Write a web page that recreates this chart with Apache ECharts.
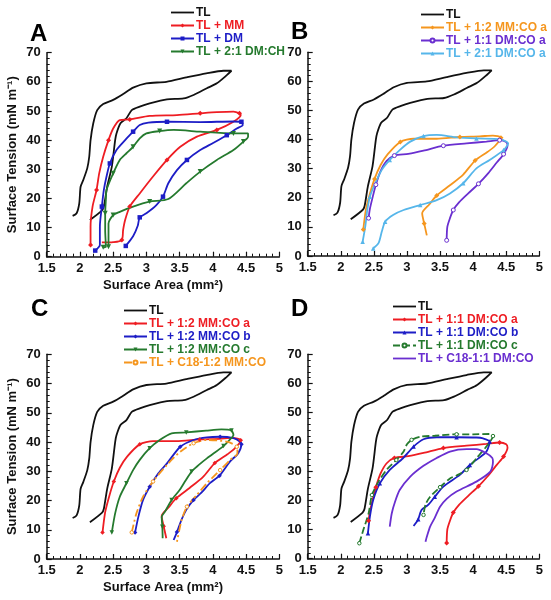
<!DOCTYPE html>
<html>
<head>
<meta charset="utf-8">
<script src="https://cdn.jsdelivr.net/npm/echarts@6/dist/echarts.min.js"></script>
<style>html,body{margin:0;padding:0;background:#fff}#c{width:551px;height:600px}</style>
</head>
<body>
<div id="c"></div>
<script>
// ---- Data (surface area mm^2, surface tension mN/m) ----
var TL = [[2.15,12.6],[2.33,15.8],[2.36,17.2],[2.41,24],[2.48,30.9],[2.53,40],[2.55,42.3],[2.61,45.8],[2.70,47.5],[2.78,50.3],[2.9,51.5],[3.05,52.6],[3.31,54],[3.56,54.3],[3.71,55.5],[3.91,57.8],[4.06,59.5],[4.21,62.3],[4.28,63.8],[4.16,63.8],[3.9,62.9],[3.6,61.5],[3.3,60],[3.0,59.5],[2.8,58],[2.65,55.8],[2.5,53.8],[2.35,52.4],[2.26,50.3],[2.2,45.7],[2.16,40],[2.14,34.3],[2.11,30.3],[2.05,26.3],[2.01,24],[1.99,18.3],[1.95,14.9],[1.89,14]];
var MM = [[2.16,4],[2.16,10.3],[2.19,17.2],[2.25,22.9],[2.29,28.6],[2.35,34.3],[2.43,40],[2.5,44],[2.6,46.9],[2.75,47.1],[3.05,48.3],[3.46,48.6],[3.81,49.2],[4.06,49.6],[4.31,49.8],[4.4,49.2],[4.42,48.6],[4.31,46.3],[4.06,43.5],[3.76,41.2],[3.51,37.7],[3.31,33.2],[3.1,27.5],[2.9,21.7],[2.75,17.2],[2.68,12.6],[2.65,9.2],[2.63,5.7],[2.5,5.0],[2.33,4.9]];
var DM = [[2.23,2.1],[2.3,4],[2.3,10.3],[2.33,17.2],[2.36,22.9],[2.4,27.5],[2.45,32],[2.55,36.6],[2.68,40],[2.8,42.9],[2.9,45.2],[3.03,46],[3.31,46.3],[3.81,46.2],[4.31,46.4],[4.43,46.3],[4.45,45.2],[4.36,44],[4.21,41.7],[4.01,39.1],[3.81,36.6],[3.61,33.2],[3.46,29.7],[3.33,25.2],[3.25,20.6],[3.15,17.7],[3.0,14.9],[2.9,13.5],[2.87,10.6],[2.8,7],[2.69,3.7]];
var DMCH = [[2.35,3.2],[2.39,3.4],[2.38,9.2],[2.38,14.9],[2.39,19.4],[2.4,22.9],[2.5,28.6],[2.6,33.2],[2.7,35.5],[2.8,37.7],[2.9,40.6],[3.0,42.3],[3.2,43.1],[3.41,43.5],[3.81,42.9],[4.31,42.3],[4.53,42.3],[4.53,41.2],[4.46,39.5],[4.31,36.6],[4.06,33.2],[3.81,29.2],[3.6,25.2],[3.33,19.8],[3.05,18.9],[2.8,17.2],[2.6,15.4],[2.5,14.3],[2.43,11.4],[2.43,7.2],[2.43,3.4]];
var MMCO_a = [[2.34,9.1],[2.38,16],[2.44,21.4],[2.51,26.5],[2.6,31.2],[2.71,35],[2.9,39.2],[3.1,40.3],[3.45,40.3],[3.8,40.9],[4.1,41.1],[4.3,41.4],[4.42,40.6],[4.33,37.8],[4.22,35.8],[4.03,32.8],[3.85,28],[3.65,24.3],[3.45,20.8],[3.34,17.8],[3.23,14.7],[3.26,11.2],[3.3,7.1]];
var DMCO_a = [[2.42,13],[2.44,16.2],[2.49,21],[2.53,24.5],[2.6,29.1],[2.69,32.6],[2.81,34.5],[3.02,35.1],[3.25,36.2],[3.55,37.9],[3.9,38.7],[4.2,39.3],[4.4,39.8],[4.5,39.2],[4.52,38],[4.46,35],[4.36,32.2],[4.23,28.5],[4.08,24.8],[3.93,21.6],[3.79,18.5],[3.7,15.8],[3.65,13],[3.61,10],[3.6,5.4]];
var DMCO2_a = [[2.33,4.9],[2.37,10.1],[2.4,15.8],[2.44,20.4],[2.52,25],[2.62,29.6],[2.74,33],[2.89,36.4],[3.05,39.3],[3.25,41.2],[3.45,41.6],[3.75,40.8],[4.05,40.4],[4.41,40.1],[4.53,38.7],[4.46,36.4],[4.25,33],[4.05,30.1],[3.85,25],[3.65,21.5],[3.45,19.2],[3.2,17.5],[2.95,15.8],[2.79,14.1],[2.67,11.8],[2.62,8.4],[2.57,4.4],[2.49,2.6]];
var MMCO_b = [[2.83,9.1],[2.88,14.5],[2.95,20.2],[3.05,24.7],[3.18,29.3],[3.31,32.7],[3.51,38.4],[3.71,40.7],[3.91,41.6],[4.11,41.8],[4.31,41.3],[4.41,40.1],[4.43,39.2],[4.38,36.1],[4.26,33.4],[4.1,28.5],[3.96,26],[3.82,22.5],[3.71,20.2],[3.6,16.8],[3.53,13.5],[3.46,9.2],[3.41,6.5]];
var MMCO_c = [[2.48,9.1],[2.53,15.6],[2.6,21.3],[2.7,25.9],[2.8,30.4],[2.9,33.9],[3.05,37.9],[3.2,40.7],[3.38,43],[3.6,43.3],[3.9,43.9],[4.13,44.3],[4.28,43.9],[4.31,42.4],[4.25,40.7],[4.16,38.6],[3.91,34.4],[3.78,32],[3.68,29.9],[3.58,26.5],[3.5,23.6],[3.38,20.2],[3.28,16.2],[3.23,14.4],[3.24,11],[3.245,7.1]];
var C18_MMCO = [[2.78,9.1],[2.85,15.6],[2.95,21.3],[3.1,26.5],[3.31,32.2],[3.51,36.7],[3.71,39.6],[3.91,40.7],[4.21,40.1],[4.36,38.4],[4.37,36.1],[4.26,33.9],[4.11,30.4],[3.91,25.9],[3.76,21.9],[3.61,17.9],[3.53,13.3],[3.46,5.9]];
var DMCO_b = [[2.41,8.7],[2.44,14.4],[2.49,20.1],[2.59,25.8],[2.74,30.4],[2.94,34.4],[3.1,38.4],[3.25,40.9],[3.45,41.6],[3.75,41.6],[4.05,41.5],[4.15,41.2],[4.25,40.1],[4.22,37.5],[4.18,36.1],[3.95,32.1],[3.8,28.7],[3.55,24.7],[3.42,21.2],[3.32,18.4],[3.22,16.7],[3.17,13.5],[3.1,11.2]];
var DMCO_c = [[2.28,5.3],[2.34,9.8],[2.42,15.5],[2.47,21.8],[2.57,26.4],[2.69,30.4],[2.84,33.8],[2.95,36.7],[3.0,39.2],[3.07,40.7],[3.2,41.8],[3.42,42.1],[3.75,42.6],[4.0,42.6],[4.25,42.7],[4.3,42],[4.2,38.4],[4.05,34.4],[3.9,30.4],[3.75,28.5],[3.65,27.5],[3.5,24.5],[3.35,21.2],[3.28,18.5],[3.25,15]];
var C18_DMCO = [[2.74,11],[2.77,15.5],[2.82,19.5],[2.89,23.5],[3.05,28.1],[3.25,31.8],[3.45,34.5],[3.65,36.7],[3.9,37.5],[4.05,37.5],[4.2,36.1],[4.29,34.5],[4.3,33.2],[4.26,29.8],[4.05,26.4],[3.75,23],[3.6,20.5],[3.5,17.8],[3.42,14],[3.35,11],[3.3,7.5],[3.28,5.8]];

// ---- Styles ----
var BLACK='#111111', RED='#ee1d23', BLUE='#1d1dc6', GREEN='#257a2e', ORANGE='#f5961e', PURPLE='#6a2fd0', LBLUE='#56b6ea';
var FONT='Liberation Sans, Arial, sans-serif';
var PLAIN_ICON = 'path://M0,0M0,1.6L23,1.6L23,3.4L0,3.4ZM23,5';

var grids = [
  {left:46.7, top:52.7, width:232.6, height:204},
  {left:307.7, top:52.3, width:231.6, height:203.7},
  {left:46.7, top:354.3, width:232.6, height:204.7},
  {left:307.7, top:354.3, width:231.6, height:204.4}
];

function mk(step, size, off){ off = off||0; return function(v,p){ return ((p.dataIndex+off) % step === 0) ? size : 0; }; }

function S(panel, label, data, color, opt){
  opt = opt || {};
  return {
    type:'line', name: panel+'|'+label, xAxisIndex: 'ABCD'.indexOf(panel), yAxisIndex: 'ABCD'.indexOf(panel),
    data: data, smooth: 0.25, animation:false,
    lineStyle:{color:color, width:1.8, type: opt.dash || 'solid'},
    itemStyle:{color: opt.fill || color, borderColor: color, borderWidth: opt.fill ? 1 : 0},
    symbol: opt.symbol || 'none', symbolRotate: opt.rot || 0,
    symbolSize: opt.symbol ? mk(opt.step||3, opt.size||4, opt.off) : 0,
    showSymbol: !!opt.symbol, z: opt.z || 2,
    plainIcon: !opt.symbol
  };
}

var series = [
  S('A','TL',TL,BLACK),
  S('A','TL + MM',MM,RED,{symbol:'diamond',size:5,step:3}),
  S('A','TL + DM',DM,BLUE,{symbol:'rect',size:4.5,step:3}),
  S('A','TL + 2:1 DM:CH',DMCH,GREEN,{symbol:'triangle',rot:180,size:5,step:3}),
  S('B','TL',TL,BLACK),
  S('B','TL + 1:2 MM:CO a',MMCO_a,ORANGE,{symbol:'diamond',size:5,step:3}),
  S('B','TL + 1:1 DM:CO a',DMCO_a,PURPLE,{symbol:'circle',fill:'#ffffff',size:4,step:3}),
  S('B','TL + 2:1 DM:CO a',DMCO2_a,LBLUE,{symbol:'triangle',size:4.5,step:3}),
  S('C','TL',TL,BLACK),
  S('C','TL + 1:2 MM:CO a',MMCO_a,RED,{symbol:'diamond',size:4.5,step:3}),
  S('C','TL + 1:2 MM:CO b',MMCO_b,BLUE,{symbol:'diamond',size:4.5,step:3}),
  S('C','TL + 1:2 MM:CO c',MMCO_c,GREEN,{symbol:'triangle',rot:180,size:4.5,step:3}),
  S('C','TL + C18-1:2 MM:CO',C18_MMCO,ORANGE,{symbol:'circle',fill:'#ffffff',size:3.5,step:3,dash:[8,3,2,3]}),
  S('D','TL',TL,BLACK),
  S('D','TL + 1:1 DM:CO a',DMCO_a,RED,{symbol:'diamond',size:5,step:3}),
  S('D','TL + 1:1 DM:CO b',DMCO_b,BLUE,{symbol:'triangle',size:4.5,step:3}),
  S('D','TL + 1:1 DM:CO c',DMCO_c,GREEN,{symbol:'circle',fill:'#ffffff',size:3.5,step:3,dash:[7,3]}),
  S('D','TL + C18-1:1 DM:CO',C18_DMCO,PURPLE)
];

var colorsByName = {};
series.forEach(function(s){ colorsByName[s.name] = s.lineStyle.color; });

function legendFor(panel, left, top){
  var items = series.filter(function(s){ return s.name.indexOf(panel+'|')===0; }).map(function(s){
    var it = {name:s.name, textStyle:{color: colorsByName[s.name]}};
    if (s.plainIcon) it.icon = PLAIN_ICON;
    return it;
  });
  return {
    data: items, orient:'vertical', left:left, top:top, padding:0, itemGap:0,
    itemWidth:23, itemHeight:5, selectedMode:false,
    formatter: function(n){ return n.split('|')[1]; },
    textStyle:{fontFamily:FONT, fontSize:12, fontWeight:'bold', lineHeight:13, padding:[0,0,0,-3]}
  };
}

function xAx(i, named){
  return {
    type:'value', gridIndex:i, min:1.5, max:5, interval:0.5,
    name: named ? 'Surface Area (mm\u00B2)' : '', nameLocation:'middle', nameGap:22,
    nameTextStyle:{fontFamily:FONT, fontSize:13, fontWeight:'bold', color:'#111'},
    axisLine:{lineStyle:{color:'#111', width:1.5}},
    axisTick:{inside:true, length:5, lineStyle:{color:'#111', width:1.2}},
    minorTick:{show:true, splitNumber:5, length:3, lineStyle:{color:'#111', width:1}},
    axisLabel:{fontFamily:FONT, fontSize:13, fontWeight:'bold', color:'#111', margin:5},
    splitLine:{show:false}
  };
}
function yAx(i, named){
  return {
    type:'value', gridIndex:i, min:0, max:70, interval:10,
    name: named ? 'Surface Tension (mN m\u207B\u00B9)' : '', nameLocation:'middle', nameGap:28,
    nameTextStyle:{fontFamily:FONT, fontSize:13, fontWeight:'bold', color:'#111'},
    axisLine:{show:true, lineStyle:{color:'#111', width:1.5}},
    axisTick:{show:true, inside:true, length:5, lineStyle:{color:'#111', width:1.2}},
    minorTick:{show:true, splitNumber:5, length:3, lineStyle:{color:'#111', width:1}},
    axisLabel:{fontFamily:FONT, fontSize:13, fontWeight:'bold', color:'#111', margin:6},
    splitLine:{show:false}
  };
}

var chart = echarts.init(document.getElementById('c'), null, {renderer:'canvas'});
chart.setOption({
  backgroundColor:'#ffffff',
  animation:false,
  title:[
    {text:'A', left:25, top:17, textStyle:{fontFamily:FONT, fontSize:24, fontWeight:'bold', color:'#000'}},
    {text:'B', left:286, top:15, textStyle:{fontFamily:FONT, fontSize:24, fontWeight:'bold', color:'#000'}},
    {text:'C', left:26, top:292, textStyle:{fontFamily:FONT, fontSize:24, fontWeight:'bold', color:'#000'}},
    {text:'D', left:286, top:292, textStyle:{fontFamily:FONT, fontSize:24, fontWeight:'bold', color:'#000'}}
  ],
  grid: grids,
  xAxis:[xAx(0,true), xAx(1,false), xAx(2,true), xAx(3,false)],
  yAxis:[yAx(0,true), yAx(1,false), yAx(2,true), yAx(3,false)],
  legend:[legendFor('A',170,6), legendFor('B',420,8), legendFor('C',123,304), legendFor('D',392,300)],
  series: series
});
</script>
</body>
</html>
